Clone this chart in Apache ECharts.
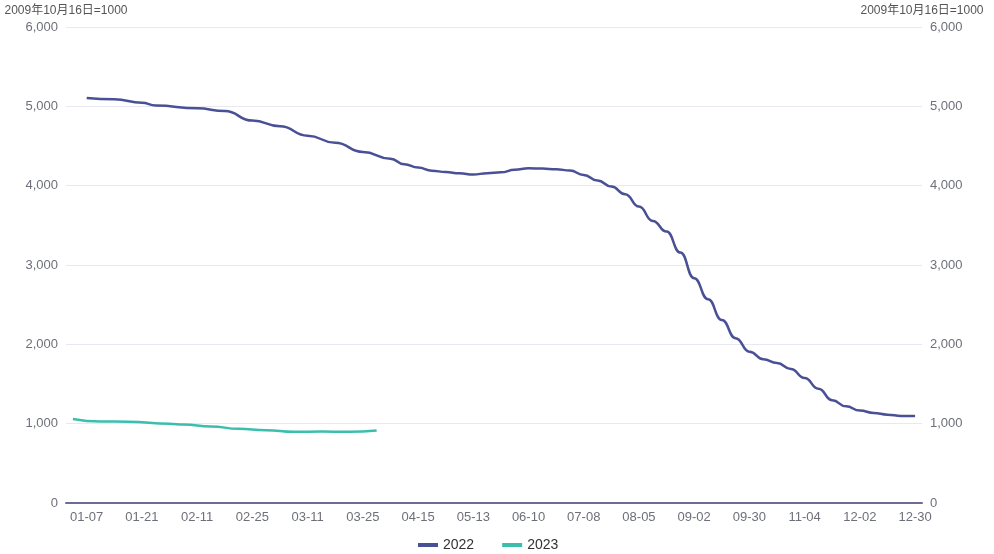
<!DOCTYPE html>
<html>
<head>
<meta charset="utf-8">
<script src="https://cdn.jsdelivr.net/npm/echarts@6/dist/echarts.min.js"></script>
<style>
html,body{margin:0;padding:0;background:#fff;}
#chart{width:994px;height:554px;}
</style>
</head>
<body>
<div id="chart"></div>
<script>
const categories = ['01-06','01-07','01-13','01-14','01-20','01-21','01-28','02-03','02-10','02-11','02-17','02-18','02-24','02-25','03-03','03-04','03-10','03-11','03-17','03-18','03-24','03-25','03-31','04-01','04-08','04-15','04-22','04-29','05-06','05-13','05-20','05-27','06-02','06-10','06-17','06-24','07-01','07-08','07-15','07-22','07-29','08-05','08-12','08-19','08-26','09-02','09-09','09-16','09-23','09-30','10-14','10-21','10-28','11-04','11-11','11-18','11-25','12-02','12-09','12-16','12-23','12-30'];

const values2022 = [null,5105,null,5090,null,5045,5010,null,null,4975,null,4940,null,4820,null,4748,null,4630,null,4540,null,4425,null,4340,4270,4228,4188,4172,4155,4140,4157,4168,4200,4220,4215,4208,4190,4136,4065,3989,3893,3737,3556,3421,3156,2833,2569,2308,2077,1908,1812,1765,1690,1575,1440,1295,1218,1165,1135,1113,1098,1097];

const values2023 = [1060,null,1028,null,1024,null,null,1000,988,null,965,null,935,null,918,null,897,null,900,null,897,null,913];

const seriesNames = ['2022','2023'];
const axisName = '2009年10月16日=1000';

const FONT = 'Liberation Sans, "Noto Sans CJK SC", sans-serif';
const chart = echarts.init(document.getElementById('chart'), null, {renderer:'canvas'});
const yAxisCommon = {
  type: 'value', min: 0, max: 6000, interval: 1000,
  name: axisName, nameGap: 10,
  nameTextStyle: {color: '#555', fontSize: 12, fontFamily: FONT},
  axisLine: {show: false}, axisTick: {show: false},
  axisLabel: {color: '#6E7079', fontSize: 13, fontFamily: FONT}
};
chart.setOption({
  animation: false,
  textStyle: {fontFamily: FONT},
  grid: {left: 66, right: 72, top: 27, bottom: 51, containLabel: false},
  legend: {
    bottom: -3, left: 413, itemGap: 28,
    icon: 'rect', itemWidth: 20, itemHeight: 4,
    textStyle: {color: '#333', fontSize: 14, fontFamily: FONT},
    data: seriesNames
  },
  xAxis: {
    type: 'category', data: categories, boundaryGap: true,
    axisLine: {lineStyle: {color: '#6C6C94', width: 2}},
    axisTick: {show: false},
    axisLabel: {color: '#6E7079', fontSize: 13, fontFamily: FONT, interval: function(i){ return i % 4 === 1; }}
  },
  yAxis: [
    Object.assign({}, yAxisCommon, {position: 'left', splitLine: {lineStyle: {color: '#E8E8F2'}}}),
    Object.assign({}, yAxisCommon, {position: 'right', splitLine: {show: false}})
  ],
  series: [
    {name: seriesNames[0], type: 'line', data: values2022, smooth: true, smoothMonotone: 'x', connectNulls: true, showSymbol: false, symbol: 'none',
     lineStyle: {color: '#4A5096', width: 2.5}, itemStyle: {color: '#4A5096'}},
    {name: seriesNames[1], type: 'line', data: values2023, smooth: true, smoothMonotone: 'x', connectNulls: true, showSymbol: false, symbol: 'none',
     lineStyle: {color: '#3CBEAE', width: 2.5}, itemStyle: {color: '#3CBEAE'}}
  ]
});
</script>
</body>
</html>
